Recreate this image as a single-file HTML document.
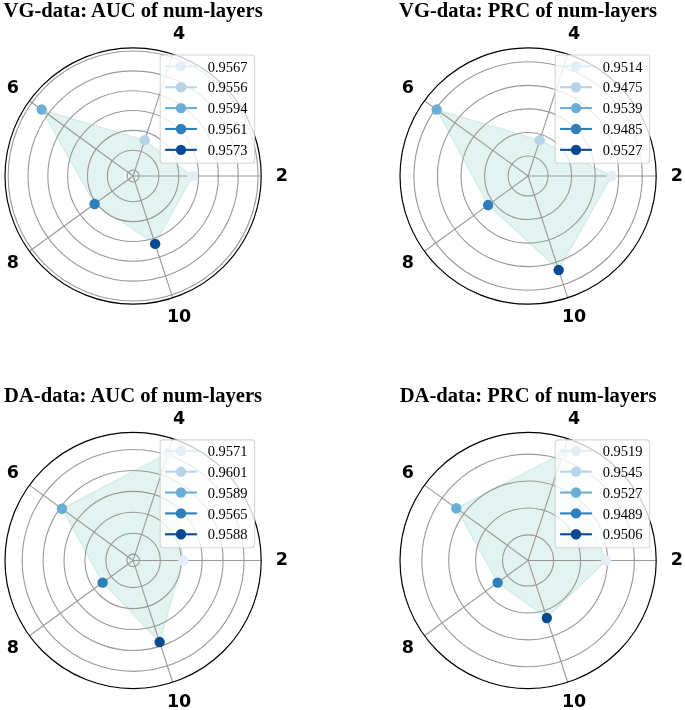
<!DOCTYPE html>
<html><head><meta charset="utf-8"><title>Radar charts</title>
<style>
html,body{margin:0;padding:0;background:#fff;}
body{width:685px;height:710px;overflow:hidden;}
svg{display:block;will-change:transform;}
.ti{font-family:"Liberation Serif",serif;font-weight:bold;font-size:20.6px;fill:#000;}
.lg{font-family:"Liberation Serif",serif;font-size:14.5px;fill:#000;}
.ax{font-family:"DejaVu Sans","Liberation Sans",sans-serif;font-weight:bold;font-size:17.5px;fill:#000;}
</style></head><body>
<svg width="685" height="710" viewBox="0 0 685 710">
<rect width="685" height="710" fill="#fff"/>
<g>
<polygon points="192.59,176 144.74,140.17 41.66,109.56 94.6,203.97 155.16,243.89" fill="#8ad1c3" fill-opacity="0.25" stroke="#8ad1c3" stroke-opacity="0.25" stroke-width="1.4" stroke-linejoin="miter"/>
<g fill="none" stroke="#999999" stroke-width="1.1">
<circle cx="133.1" cy="176" r="5.95"/>
<circle cx="133.1" cy="176" r="25.78"/>
<circle cx="133.1" cy="176" r="45.61"/>
<circle cx="133.1" cy="176" r="65.44"/>
<circle cx="133.1" cy="176" r="85.27"/>
<circle cx="133.1" cy="176" r="105.1"/>
<circle cx="133.1" cy="176" r="124.93"/>
<line x1="133.1" y1="176" x2="261.2" y2="176"/>
<line x1="133.1" y1="176" x2="172.69" y2="54.17"/>
<line x1="133.1" y1="176" x2="29.46" y2="100.7"/>
<line x1="133.1" y1="176" x2="29.46" y2="251.3"/>
<line x1="133.1" y1="176" x2="172.69" y2="297.83"/>
</g>
<circle cx="192.59" cy="176" r="5.2" fill="#e3eef9"/>
<circle cx="144.74" cy="140.17" r="5.2" fill="#b7d4ea"/>
<circle cx="41.66" cy="109.56" r="5.2" fill="#6aaed6"/>
<circle cx="94.6" cy="203.97" r="5.2" fill="#2e7ebc"/>
<circle cx="155.16" cy="243.89" r="5.2" fill="#084a91"/>
<circle cx="133.1" cy="176" r="128.1" fill="none" stroke="#000" stroke-width="1.2"/>
<g fill="#000">
<text class="ax" x="275.81" y="180.8">2</text>
<text class="ax" x="172.99" y="39.28">4</text>
<text class="ax" x="6.63" y="93.34">6</text>
<text class="ax" x="6.63" y="268.26">8</text>
<text class="ax" x="166.91" y="322.32">10</text>
</g>
<text class="ti" x="133.1" y="17" text-anchor="middle">VG-data: AUC of num-layers</text>
<rect x="160.2" y="55.05" width="94.4" height="108.2" rx="3" ry="3" fill="#fff" fill-opacity="0.8" stroke="#ccc" stroke-opacity="0.8" stroke-width="1.1"/>
<line x1="165.1" y1="66.35" x2="196.9" y2="66.35" stroke="#e3eef9" stroke-width="2.1"/>
<circle cx="181" cy="66.35" r="5.2" fill="#e3eef9"/>
<text class="lg" x="207.65" y="71.55">0.9567</text>
<line x1="165.1" y1="87.22" x2="196.9" y2="87.22" stroke="#b7d4ea" stroke-width="2.1"/>
<circle cx="181" cy="87.22" r="5.2" fill="#b7d4ea"/>
<text class="lg" x="207.65" y="92.42">0.9556</text>
<line x1="165.1" y1="108.09" x2="196.9" y2="108.09" stroke="#6aaed6" stroke-width="2.1"/>
<circle cx="181" cy="108.09" r="5.2" fill="#6aaed6"/>
<text class="lg" x="207.65" y="113.29">0.9594</text>
<line x1="165.1" y1="128.96" x2="196.9" y2="128.96" stroke="#2e7ebc" stroke-width="2.1"/>
<circle cx="181" cy="128.96" r="5.2" fill="#2e7ebc"/>
<text class="lg" x="207.65" y="134.16">0.9561</text>
<line x1="165.1" y1="149.83" x2="196.9" y2="149.83" stroke="#084a91" stroke-width="2.1"/>
<circle cx="181" cy="149.83" r="5.2" fill="#084a91"/>
<text class="lg" x="207.65" y="155.03">0.9573</text>
</g>
<g>
<polygon points="611.69,176 539.74,140.17 436.66,109.56 488.09,205.07 558.66,270.06" fill="#8ad1c3" fill-opacity="0.25" stroke="#8ad1c3" stroke-opacity="0.25" stroke-width="1.4" stroke-linejoin="miter"/>
<g fill="none" stroke="#999999" stroke-width="1.1">
<circle cx="528.1" cy="176" r="20.02"/>
<circle cx="528.1" cy="176" r="43.56"/>
<circle cx="528.1" cy="176" r="67.11"/>
<circle cx="528.1" cy="176" r="90.66"/>
<circle cx="528.1" cy="176" r="114.21"/>
<line x1="528.1" y1="176" x2="656.2" y2="176"/>
<line x1="528.1" y1="176" x2="567.69" y2="54.17"/>
<line x1="528.1" y1="176" x2="424.46" y2="100.7"/>
<line x1="528.1" y1="176" x2="424.46" y2="251.3"/>
<line x1="528.1" y1="176" x2="567.69" y2="297.83"/>
</g>
<circle cx="611.69" cy="176" r="5.2" fill="#e3eef9"/>
<circle cx="539.74" cy="140.17" r="5.2" fill="#b7d4ea"/>
<circle cx="436.66" cy="109.56" r="5.2" fill="#6aaed6"/>
<circle cx="488.09" cy="205.07" r="5.2" fill="#2e7ebc"/>
<circle cx="558.66" cy="270.06" r="5.2" fill="#084a91"/>
<circle cx="528.1" cy="176" r="128.1" fill="none" stroke="#000" stroke-width="1.2"/>
<g fill="#000">
<text class="ax" x="670.81" y="180.8">2</text>
<text class="ax" x="567.99" y="39.28">4</text>
<text class="ax" x="401.63" y="93.34">6</text>
<text class="ax" x="401.63" y="268.26">8</text>
<text class="ax" x="561.91" y="322.32">10</text>
</g>
<text class="ti" x="528.1" y="17" text-anchor="middle">VG-data: PRC of num-layers</text>
<rect x="555.2" y="55.05" width="94.4" height="108.2" rx="3" ry="3" fill="#fff" fill-opacity="0.8" stroke="#ccc" stroke-opacity="0.8" stroke-width="1.1"/>
<line x1="560.1" y1="66.35" x2="591.9" y2="66.35" stroke="#e3eef9" stroke-width="2.1"/>
<circle cx="576" cy="66.35" r="5.2" fill="#e3eef9"/>
<text class="lg" x="602.65" y="71.55">0.9514</text>
<line x1="560.1" y1="87.22" x2="591.9" y2="87.22" stroke="#b7d4ea" stroke-width="2.1"/>
<circle cx="576" cy="87.22" r="5.2" fill="#b7d4ea"/>
<text class="lg" x="602.65" y="92.42">0.9475</text>
<line x1="560.1" y1="108.09" x2="591.9" y2="108.09" stroke="#6aaed6" stroke-width="2.1"/>
<circle cx="576" cy="108.09" r="5.2" fill="#6aaed6"/>
<text class="lg" x="602.65" y="113.29">0.9539</text>
<line x1="560.1" y1="128.96" x2="591.9" y2="128.96" stroke="#2e7ebc" stroke-width="2.1"/>
<circle cx="576" cy="128.96" r="5.2" fill="#2e7ebc"/>
<text class="lg" x="602.65" y="134.16">0.9485</text>
<line x1="560.1" y1="149.83" x2="591.9" y2="149.83" stroke="#084a91" stroke-width="2.1"/>
<circle cx="576" cy="149.83" r="5.2" fill="#084a91"/>
<text class="lg" x="602.65" y="155.03">0.9527</text>
</g>
<g>
<polygon points="183.34,560.45 168.03,452.95 61.98,508.78 102.62,582.6 159.62,642.07" fill="#8ad1c3" fill-opacity="0.25" stroke="#8ad1c3" stroke-opacity="0.25" stroke-width="1.4" stroke-linejoin="miter"/>
<g fill="none" stroke="#999999" stroke-width="1.1">
<circle cx="133.1" cy="560.45" r="6.28"/>
<circle cx="133.1" cy="560.45" r="27.21"/>
<circle cx="133.1" cy="560.45" r="48.14"/>
<circle cx="133.1" cy="560.45" r="69.07"/>
<circle cx="133.1" cy="560.45" r="90"/>
<circle cx="133.1" cy="560.45" r="110.94"/>
<line x1="133.1" y1="560.45" x2="261.2" y2="560.45"/>
<line x1="133.1" y1="560.45" x2="172.69" y2="438.62"/>
<line x1="133.1" y1="560.45" x2="29.46" y2="485.15"/>
<line x1="133.1" y1="560.45" x2="29.46" y2="635.75"/>
<line x1="133.1" y1="560.45" x2="172.69" y2="682.28"/>
</g>
<circle cx="183.34" cy="560.45" r="5.2" fill="#e3eef9"/>
<circle cx="168.03" cy="452.95" r="5.2" fill="#b7d4ea"/>
<circle cx="61.98" cy="508.78" r="5.2" fill="#6aaed6"/>
<circle cx="102.62" cy="582.6" r="5.2" fill="#2e7ebc"/>
<circle cx="159.62" cy="642.07" r="5.2" fill="#084a91"/>
<circle cx="133.1" cy="560.45" r="128.1" fill="none" stroke="#000" stroke-width="1.2"/>
<g fill="#000">
<text class="ax" x="275.81" y="565.25">2</text>
<text class="ax" x="172.99" y="423.73">4</text>
<text class="ax" x="6.63" y="477.79">6</text>
<text class="ax" x="6.63" y="652.71">8</text>
<text class="ax" x="166.91" y="706.77">10</text>
</g>
<text class="ti" x="133.1" y="401.7" text-anchor="middle">DA-data: AUC of num-layers</text>
<rect x="160.2" y="439.9" width="94.4" height="107.8" rx="3" ry="3" fill="#fff" fill-opacity="0.8" stroke="#ccc" stroke-opacity="0.8" stroke-width="1.1"/>
<line x1="165.1" y1="450.8" x2="196.9" y2="450.8" stroke="#e3eef9" stroke-width="2.1"/>
<circle cx="181" cy="450.8" r="5.2" fill="#e3eef9"/>
<text class="lg" x="207.65" y="456">0.9571</text>
<line x1="165.1" y1="471.67" x2="196.9" y2="471.67" stroke="#b7d4ea" stroke-width="2.1"/>
<circle cx="181" cy="471.67" r="5.2" fill="#b7d4ea"/>
<text class="lg" x="207.65" y="476.87">0.9601</text>
<line x1="165.1" y1="492.54" x2="196.9" y2="492.54" stroke="#6aaed6" stroke-width="2.1"/>
<circle cx="181" cy="492.54" r="5.2" fill="#6aaed6"/>
<text class="lg" x="207.65" y="497.74">0.9589</text>
<line x1="165.1" y1="513.41" x2="196.9" y2="513.41" stroke="#2e7ebc" stroke-width="2.1"/>
<circle cx="181" cy="513.41" r="5.2" fill="#2e7ebc"/>
<text class="lg" x="207.65" y="518.61">0.9565</text>
<line x1="165.1" y1="534.28" x2="196.9" y2="534.28" stroke="#084a91" stroke-width="2.1"/>
<circle cx="181" cy="534.28" r="5.2" fill="#084a91"/>
<text class="lg" x="207.65" y="539.48">0.9588</text>
</g>
<g>
<polygon points="606.14,560.45 563.03,452.95 456.25,508.25 497.62,582.6 546.81,618.04" fill="#8ad1c3" fill-opacity="0.25" stroke="#8ad1c3" stroke-opacity="0.25" stroke-width="1.4" stroke-linejoin="miter"/>
<g fill="none" stroke="#999999" stroke-width="1.1">
<circle cx="528.1" cy="560.45" r="25.57"/>
<circle cx="528.1" cy="560.45" r="52.48"/>
<circle cx="528.1" cy="560.45" r="79.39"/>
<circle cx="528.1" cy="560.45" r="106.3"/>
<line x1="528.1" y1="560.45" x2="656.2" y2="560.45"/>
<line x1="528.1" y1="560.45" x2="567.69" y2="438.62"/>
<line x1="528.1" y1="560.45" x2="424.46" y2="485.15"/>
<line x1="528.1" y1="560.45" x2="424.46" y2="635.75"/>
<line x1="528.1" y1="560.45" x2="567.69" y2="682.28"/>
</g>
<circle cx="606.14" cy="560.45" r="5.2" fill="#e3eef9"/>
<circle cx="563.03" cy="452.95" r="5.2" fill="#b7d4ea"/>
<circle cx="456.25" cy="508.25" r="5.2" fill="#6aaed6"/>
<circle cx="497.62" cy="582.6" r="5.2" fill="#2e7ebc"/>
<circle cx="546.81" cy="618.04" r="5.2" fill="#084a91"/>
<circle cx="528.1" cy="560.45" r="128.1" fill="none" stroke="#000" stroke-width="1.2"/>
<g fill="#000">
<text class="ax" x="670.81" y="565.25">2</text>
<text class="ax" x="567.99" y="423.73">4</text>
<text class="ax" x="401.63" y="477.79">6</text>
<text class="ax" x="401.63" y="652.71">8</text>
<text class="ax" x="561.91" y="706.77">10</text>
</g>
<text class="ti" x="528.1" y="401.7" text-anchor="middle">DA-data: PRC of num-layers</text>
<rect x="555.2" y="439.9" width="94.4" height="107.8" rx="3" ry="3" fill="#fff" fill-opacity="0.8" stroke="#ccc" stroke-opacity="0.8" stroke-width="1.1"/>
<line x1="560.1" y1="450.8" x2="591.9" y2="450.8" stroke="#e3eef9" stroke-width="2.1"/>
<circle cx="576" cy="450.8" r="5.2" fill="#e3eef9"/>
<text class="lg" x="602.65" y="456">0.9519</text>
<line x1="560.1" y1="471.67" x2="591.9" y2="471.67" stroke="#b7d4ea" stroke-width="2.1"/>
<circle cx="576" cy="471.67" r="5.2" fill="#b7d4ea"/>
<text class="lg" x="602.65" y="476.87">0.9545</text>
<line x1="560.1" y1="492.54" x2="591.9" y2="492.54" stroke="#6aaed6" stroke-width="2.1"/>
<circle cx="576" cy="492.54" r="5.2" fill="#6aaed6"/>
<text class="lg" x="602.65" y="497.74">0.9527</text>
<line x1="560.1" y1="513.41" x2="591.9" y2="513.41" stroke="#2e7ebc" stroke-width="2.1"/>
<circle cx="576" cy="513.41" r="5.2" fill="#2e7ebc"/>
<text class="lg" x="602.65" y="518.61">0.9489</text>
<line x1="560.1" y1="534.28" x2="591.9" y2="534.28" stroke="#084a91" stroke-width="2.1"/>
<circle cx="576" cy="534.28" r="5.2" fill="#084a91"/>
<text class="lg" x="602.65" y="539.48">0.9506</text>
</g>
</svg></body></html>
